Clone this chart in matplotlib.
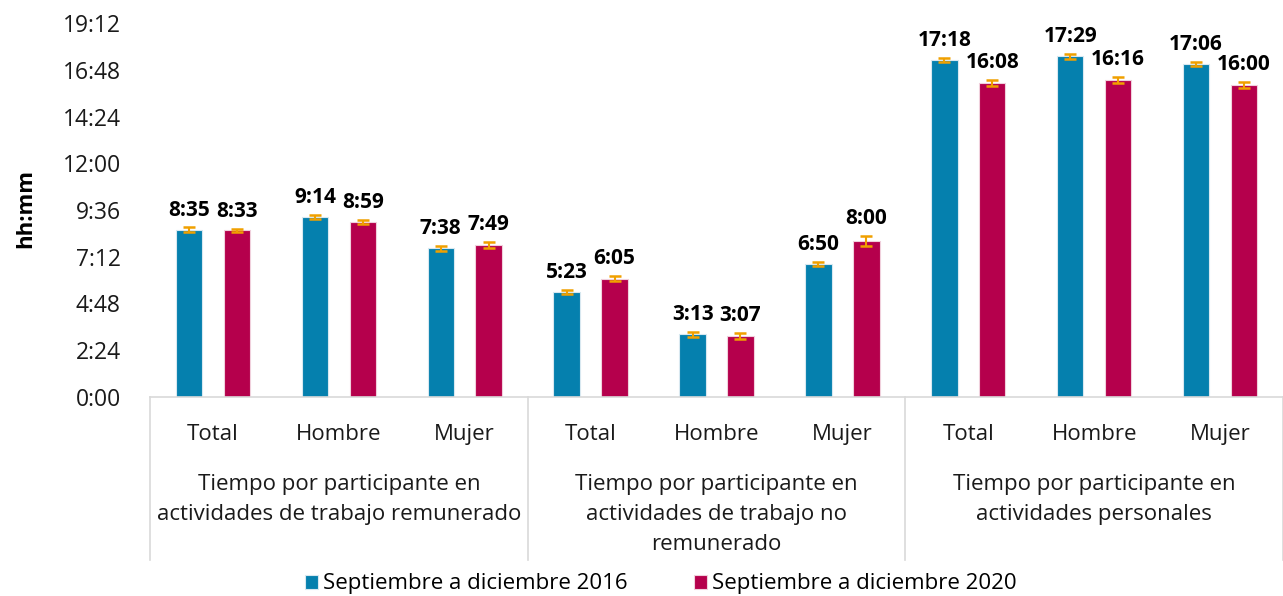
import matplotlib
matplotlib.use("Agg")
import matplotlib.pyplot as plt
import matplotlib.transforms as mtransforms
from matplotlib.ticker import FuncFormatter, MultipleLocator
import numpy as np

plt.rcParams['font.family'] = ['Open Sans', 'DejaVu Sans']

# ---- data ----
groups = ["Tiempo por participante en\nactividades de trabajo remunerado",
          "Tiempo por participante en\nactividades de trabajo no\nremunerado",
          "Tiempo por participante en\nactividades personales"]
categories = ["Total", "Hombre", "Mujer"]
series_names = ["Septiembre a diciembre 2016", "Septiembre a diciembre 2020"]
labels_2016 = ["8:35", "9:14", "7:38", "5:23", "3:13", "6:50", "17:18", "17:29", "17:06"]
labels_2020 = ["8:33", "8:59", "7:49", "6:05", "3:07", "8:00", "16:08", "16:16", "16:00"]
err_2016 = [0.12, 0.12, 0.12, 0.12, 0.12, 0.12, 0.12, 0.12, 0.12]
err_2020 = [0.10, 0.12, 0.15, 0.15, 0.15, 0.25, 0.15, 0.15, 0.15]
yticks_step = 2.4
ymax = 19.2

def to_hours(s):
    h, m = s.split(":")
    return int(h) + int(m) / 60.0

v2016 = [to_hours(s) for s in labels_2016]
v2020 = [to_hours(s) for s in labels_2020]

colors = ["#0580AE", "#B5004C"]
err_color = "#F0A000"
txt = "#1a1a1a"

fig = plt.figure(figsize=(12.83, 5.96), dpi=100)
ax = fig.add_axes([150/1283, 1-397/596, 1-150/1283, (397-23)/596])

n = len(v2016)
x = np.arange(n)
off = 0.19
w = 0.21
for vals, errs, labs, c, sgn, name in [(v2016, err_2016, labels_2016, colors[0], -1, series_names[0]),
                                        (v2020, err_2020, labels_2020, colors[1], 1, series_names[1])]:
    ax.bar(x + sgn*off, vals, width=w, color=c, edgecolor="#d8e8f0" if sgn < 0 else "#f0d0dc",
           linewidth=0.8, label=name, zorder=2)
    ax.errorbar(x + sgn*off, vals, yerr=errs, fmt="none", ecolor=err_color, elinewidth=1.5,
                capsize=4.5, capthick=1.8, zorder=3)
    for xi, v, e, l in zip(x + sgn*off, vals, errs, labs):
        ax.annotate(l, (xi, v + e), xytext=(0, 5), textcoords="offset points",
                    ha="center", va="bottom", fontsize=15, fontweight="bold", color="#000000")

ax.set_xlim(-0.5, n - 0.5)
ax.set_ylim(0, ymax)
ax.yaxis.set_major_locator(MultipleLocator(yticks_step))
def fmt(v, pos):
    tot = int(round(v * 60))
    return f"{tot // 60}:{tot % 60:02d}"
ax.yaxis.set_major_formatter(FuncFormatter(fmt))
ax.tick_params(axis="y", length=0, pad=21, labelsize=16.5, labelcolor=txt)
ax.set_xticks(x)
ax.set_xticklabels(categories * len(groups))
ax.tick_params(axis="x", length=0, pad=19.5, labelsize=16, labelcolor=txt)
for s in ["top", "right", "left"]:
    ax.spines[s].set_visible(False)
ax.spines["bottom"].set_color("#d9d9d9")
ax.spines["bottom"].set_linewidth(1.2)
ax.set_ylabel("hh:mm", fontsize=16, fontweight="bold")
ax.yaxis.set_label_coords(-0.1, 0.505)

trans = mtransforms.blended_transform_factory(ax.transData, ax.transAxes)
ng = len(groups)
per = len(categories)
bottom = -(560-397)/374
for gi in range(ng + 1):
    xs = gi * per - 0.5
    ax.plot([xs, xs], [0, bottom], transform=trans, color="#d9d9d9", lw=1.2, clip_on=False)
for gi, g in enumerate(groups):
    xc = gi * per + (per - 1) / 2
    ax.text(xc, -(474-397)/374, g, transform=trans, ha="center", va="top", fontsize=16,
            color=txt, linespacing=1.55)

leg = fig.legend(loc="center", bbox_to_anchor=(0.515, 1-584/596), ncol=2, frameon=False,
                 fontsize=16, handlelength=0.6, handleheight=0.6, handletextpad=0.2, columnspacing=3.0)
fig.savefig("out.png", dpi=100)
